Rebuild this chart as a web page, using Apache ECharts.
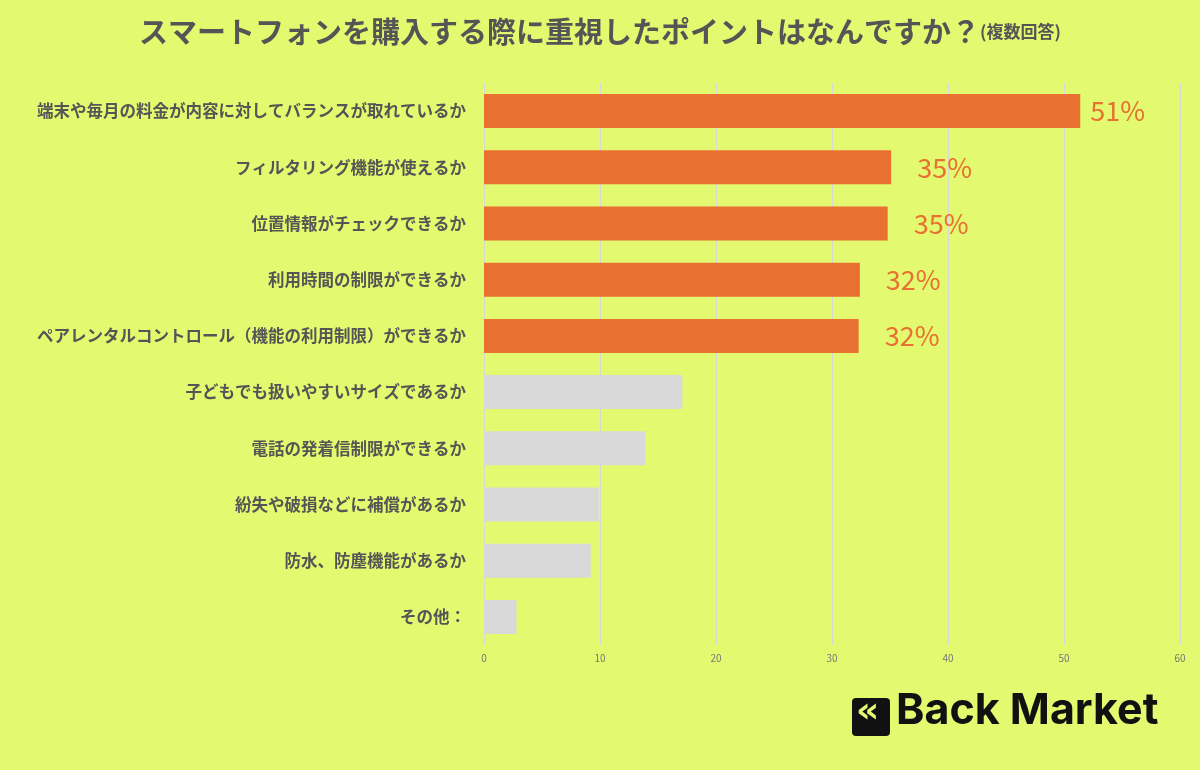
<!DOCTYPE html>
<html><head><meta charset="utf-8">
<script src="https://cdn.jsdelivr.net/npm/echarts@6/dist/echarts.min.js"></script>
<style>html,body{margin:0;background:#e3f970}#chart{width:1200px;height:770px}</style>
</head><body><div id="chart"></div>
<script>
var categories = [
  '端末や毎月の料金が内容に対してバランスが取れているか',
  'フィルタリング機能が使えるか',
  '位置情報がチェックできるか',
  '利用時間の制限ができるか',
  'ペアレンタルコントロール（機能の利用制限）ができるか',
  '子どもでも扱いやすいサイズであるか',
  '電話の発着信制限ができるか',
  '紛失や破損などに補償があるか',
  '防水、防塵機能があるか',
  'その他：'
];
var values = [51.4, 35.1, 34.8, 32.4, 32.3, 17.1, 13.9, 9.9, 9.2, 2.8];
var labels = ['51%', '35%', '35%', '32%', '32%', '', '', '', '', ''];
var highlightCount = 5;

var font = '"Noto Sans CJK JP", sans-serif';
var chart = echarts.init(document.getElementById('chart'));

var option = {
  backgroundColor: '#e3f970',
  title: {
    text: 'スマートフォンを購入する際に重視したポイントはなんですか？{s|(複数回答)}',
    left: 'center', top: 12,
    textStyle: { fontFamily: font, fontSize: 29, fontWeight: 'bold', color: '#555',
      rich: { s: { fontFamily: font, fontSize: 17, fontWeight: 'bold', color: '#555' } } }
  },
  grid: { left: 484, right: 20, top: 83, bottom: 125 },
  xAxis: {
    type: 'value', min: 0, max: 60, interval: 10,
    axisLabel: { fontSize: 10, color: '#777', fontFamily: font },
    splitLine: { lineStyle: { color: '#d8d8d8' } },
    axisLine: { show: false }, axisTick: { show: false }
  },
  yAxis: {
    type: 'category', inverse: true, data: categories,
    axisLine: { show: false }, axisTick: { show: false },
    axisLabel: { margin: 18, fontSize: 16.5, fontWeight: 'bold', color: '#555', fontFamily: font }
  },
  series: [{
    type: 'bar', barWidth: 34,
    data: values.map(function (v, i) {
      return {
        value: v,
        itemStyle: { color: i < highlightCount ? '#e87131' : '#d9d9d9' },
        label: {
          show: labels[i] !== '', position: 'right', distance: i === 0 ? 10 : 26,
          formatter: labels[i], fontSize: 27, color: '#e87131', fontFamily: font
        }
      };
    })
  }],
  graphic: [
    { type: 'rect', left: 852, top: 698, shape: { width: 38, height: 38, r: 4 }, style: { fill: '#111' } },
    { type: 'text', left: 856, top: 695, style: { text: '«', fontSize: 36, fontWeight: 'bold', fill: '#e3f970', fontFamily: 'DejaVu Sans' } },
    { type: 'text', left: 896, top: 690, style: { text: 'Back Market', fontSize: 43, fontWeight: 'bold', fill: '#111', fontFamily: 'Inter, sans-serif' } }
  ]
};
chart.setOption(option);
window.addEventListener('resize', function () { chart.resize(); });
</script></body></html>
